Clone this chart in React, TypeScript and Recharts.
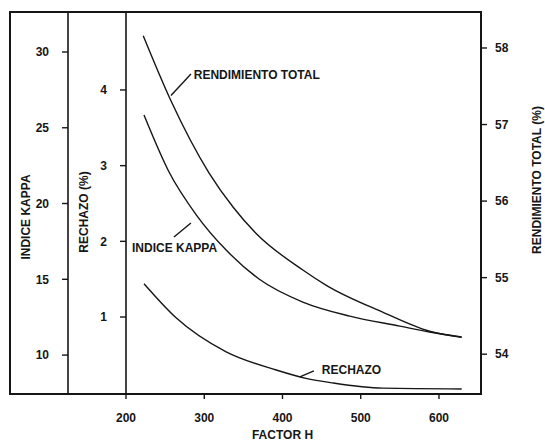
import React from "react";
import {
  LineChart,
  Line,
  XAxis,
  YAxis,
  ReferenceLine,
  ReferenceDot,
} from "recharts";

// Factor H readings for each curve
const rendH = [222, 257, 306, 337, 366, 426, 456, 528, 588, 629];
const rendValues = [58.16, 57.32, 56.37, 55.92, 55.58, 55.1, 54.9, 54.55, 54.3, 54.22];

const kappaH = [223, 255, 290, 328, 370, 426, 486, 550, 588, 629];
const kappaValues = [25.84, 22.08, 19.24, 16.93, 15.02, 13.5, 12.57, 11.91, 11.52, 11.19];

const rechazoH = [223, 264, 328, 392, 430, 464, 528, 629];
const rechazoValues = [1.44, 0.99, 0.54, 0.3, 0.19, 0.13, 0.06, 0.05];

const xTicks = [200, 300, 400, 500, 600];
const kappaTicks = [10, 15, 20, 25, 30];
const rechazoTicks = [1, 2, 3, 4];
const rendTicks = [54, 55, 56, 57, 58];

const rendData = rendH.map((h, i) => ({ h, v: rendValues[i] }));
const kappaData = kappaH.map((h, i) => ({ h, v: kappaValues[i] }));
const rechazoData = rechazoH.map((h, i) => ({ h, v: rechazoValues[i] }));

const ink = "#161616";
const font = '"Liberation Sans", Arial, sans-serif';
const tickStyle = { fill: ink, fontSize: 12, fontWeight: 700, fontFamily: font };
const titleStyle = { fill: ink, fontSize: 12, fontWeight: 700, fontFamily: font };
const axisLine = { stroke: ink, strokeWidth: 1.6 };
const tickLine = { stroke: ink, strokeWidth: 1.4 };

// axis ids: "inner" sits next to the plot, "outer" further left
const RECHAZO = "inner";
const KAPPA = "outer";
const REND = "rend";

export default function App() {
  return (
    <div style={{ position: "absolute", left: 0, top: 0, width: 545, height: 444, background: "#fff" }}>
      <div
        style={{
          position: "absolute",
          left: 9,
          top: 11,
          width: 473,
          height: 384,
          border: `2px solid ${ink}`,
          boxSizing: "border-box",
          pointerEvents: "none",
        }}
      />
      <LineChart width={545} height={444} margin={{ top: 12, right: 0, bottom: 0, left: 10 }}>
        <XAxis
          dataKey="h"
          type="number"
          domain={[200, 653.7]}
          ticks={xTicks}
          allowDataOverflow
          height={50}
          tick={tickStyle}
          tickSize={5}
          tickMargin={14}
          axisLine={axisLine}
          tickLine={tickLine}
          label={{ value: "FACTOR H", position: "center", dx: -21, dy: 16, style: titleStyle }}
        />
        <YAxis
          yAxisId={RECHAZO}
          orientation="left"
          type="number"
          domain={[-0.017, 5.03]}
          ticks={rechazoTicks}
          allowDataOverflow
          width={58}
          tick={tickStyle}
          tickSize={6}
          tickMargin={13}
          axisLine={axisLine}
          tickLine={tickLine}
          label={{ value: "RECHAZO (%)", angle: -90, position: "center", dx: -13, dy: 9, style: titleStyle }}
        />
        <YAxis
          yAxisId={KAPPA}
          orientation="left"
          type="number"
          domain={[7.43, 32.64]}
          ticks={kappaTicks}
          allowDataOverflow
          width={58}
          tick={tickStyle}
          tickSize={6}
          tickMargin={13}
          axisLine={axisLine}
          tickLine={tickLine}
          label={{ value: "INDICE KAPPA", angle: -90, position: "center", dx: -13, dy: 14, style: titleStyle }}
        />
        <YAxis
          yAxisId={REND}
          orientation="right"
          type="number"
          domain={[53.48, 58.47]}
          ticks={rendTicks}
          allowDataOverflow
          width={64}
          tick={tickStyle}
          tickSize={6}
          tickMargin={8}
          axisLine={axisLine}
          tickLine={tickLine}
          label={{ value: "RENDIMIENTO TOTAL (%)", angle: -90, position: "center", dx: 24, dy: -23, style: titleStyle }}
        />

        <Line
          yAxisId={REND}
          data={rendData}
          dataKey="v"
          type="monotone"
          stroke={ink}
          strokeWidth={1.4}
          dot={false}
          isAnimationActive={false}
        />
        <Line
          yAxisId={KAPPA}
          data={kappaData}
          dataKey="v"
          type="monotone"
          stroke={ink}
          strokeWidth={1.4}
          dot={false}
          isAnimationActive={false}
        />
        <Line
          yAxisId={RECHAZO}
          data={rechazoData}
          dataKey="v"
          type="monotone"
          stroke={ink}
          strokeWidth={1.4}
          dot={false}
          isAnimationActive={false}
        />

        {/* leader lines and curve names */}
        <ReferenceLine
          yAxisId={REND}
          segment={[{ x: 257.5, y: 57.38 }, { x: 283, y: 57.66 }]}
          stroke={ink}
          strokeWidth={1.4}
        />
        <ReferenceDot
          yAxisId={REND}
          x={286.6}
          y={57.65}
          r={0}
          stroke="none"
          fill="none"
          label={{ value: "RENDIMIENTO TOTAL", position: "right", offset: 0, style: titleStyle }}
        />
        <ReferenceLine
          yAxisId={KAPPA}
          segment={[{ x: 261.3, y: 17.79 }, { x: 283, y: 18.71 }]}
          stroke={ink}
          strokeWidth={1.4}
        />
        <ReferenceDot
          yAxisId={KAPPA}
          x={207.7}
          y={17.07}
          r={0}
          stroke="none"
          fill="none"
          label={{ value: "INDICE KAPPA", position: "right", offset: 0, style: titleStyle }}
        />
        <ReferenceLine
          yAxisId={RECHAZO}
          segment={[{ x: 422.2, y: 0.208 }, { x: 440.1, y: 0.288 }]}
          stroke={ink}
          strokeWidth={1.4}
        />
        <ReferenceDot
          yAxisId={RECHAZO}
          x={450.3}
          y={0.3}
          r={0}
          stroke="none"
          fill="none"
          label={{ value: "RECHAZO", position: "right", offset: 0, style: titleStyle }}
        />
      </LineChart>
    </div>
  );
}
